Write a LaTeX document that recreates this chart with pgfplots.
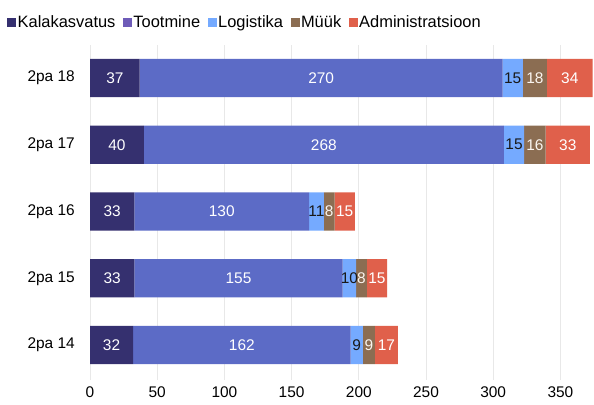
\documentclass[border=0pt]{standalone}
\usepackage{pgfplots}
\usepackage{pgfplotstable}
\usepackage{fontspec}
\setmainfont{Liberation Sans}
\pgfplotsset{compat=1.18}
\definecolor{cKal}{HTML}{35306F}
\definecolor{cToo}{HTML}{5C6BC6}
\definecolor{cTooL}{HTML}{6E5BB8}
\definecolor{cLog}{HTML}{75AAFF}
\definecolor{cMyy}{HTML}{8B6D52}
\definecolor{cAdm}{HTML}{E0604B}
\pgfplotstableread{
y kal too log myy adm
0 32 162 9 9 17
1 33 155 10 8 15
2 33 130 11 8 15
3 40 268 15 16 33
4 37 270 15 18 34
}\datatable
\pgfplotsset{
  mylabcol/.style={},
  lab/.style={
    point meta=explicit,
    nodes near coords={\pgfmathprintnumber{\pgfplotspointmeta}},
    /pgfplots/mylabcol/.style={text=#1},
  }
}
\begin{document}
\begin{tikzpicture}
\useasboundingbox (0,0) rectangle (594bp,405bp);
\begin{axis}[
  at={(90bp,25bp)}, anchor=south west,
  scale only axis, width=504bp, height=335bp,
  xbar stacked, bar width=38.4bp,
  xmin=0, xmax=375, ymin=-0.524, ymax=4.494,
  xtick={0,50,...,350},
  ytick={0,1,2,3,4},
  yticklabels={2pa 14,2pa 15,2pa 16,2pa 17,2pa 18},
  axis line style={draw=none},
  major tick length=0pt,
  xmajorgrids, grid style={draw=black!9, line width=1bp},
  /pgf/number format/assume math mode=true,
  every node near coord/.append style={font=\fontsize{15.5}{18}\selectfont, inner sep=0pt, anchor=center, /pgfplots/mylabcol},
  xticklabel style={font=\fontsize{15.5}{18}\selectfont, inner sep=0pt, anchor=north, yshift=-7bp},
  yticklabel style={font=\fontsize{15.5}{18}\selectfont, inner sep=0pt, anchor=east, xshift=-15bp},
  legend columns=5,
  legend style={draw=none, fill=none, at={(-0.1647,1.0687)}, anchor=west,
    font=\fontsize{16.5}{19}\selectfont, inner sep=0pt,
    nodes={inner sep=1.5bp},
    /tikz/every even column/.append style={column sep=6bp}},
  legend cell align=left,
  legend image code/.code={\fill[#1] (0bp,-5.5bp) rectangle (9bp,3.5bp);},
]
\addplot[fill=cKal, draw=none, lab={white}] table[x=kal, y=y, meta=kal] {\datatable};
\addplot[fill=cToo, draw=none, lab={white}, legend image post style={fill=cTooL}] table[x=too, y=y, meta=too] {\datatable};
\addplot[fill=cLog, draw=none, lab={black!90}] table[x=log, y=y, meta=log] {\datatable};
\addplot[fill=cMyy, draw=none, lab={white!92!brown}] table[x=myy, y=y, meta=myy] {\datatable};
\addplot[fill=cAdm, draw=none, lab={white}] table[x=adm, y=y, meta=adm] {\datatable};
\legend{Kalakasvatus,Tootmine,Logistika,Müük,Administratsioon}
\end{axis}
\end{tikzpicture}
\end{document}
